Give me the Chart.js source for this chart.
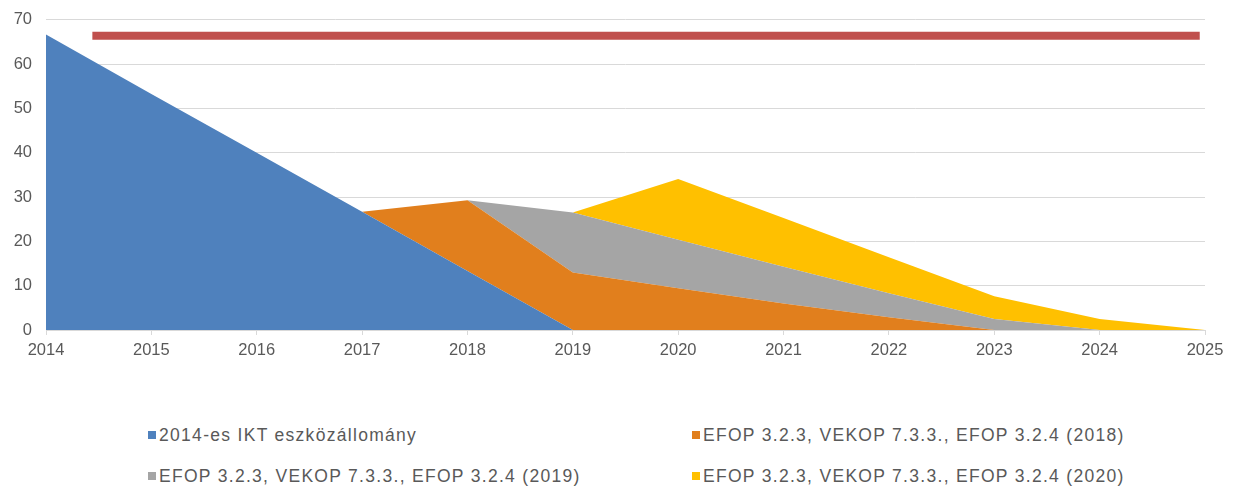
<!DOCTYPE html>
<html>
<head>
<meta charset="utf-8">
<script src="https://cdn.jsdelivr.net/npm/chart.js@4/dist/chart.umd.min.js"></script>
<style>
  body { margin: 0; background: #fff; font-family: "Liberation Sans", Arial, sans-serif; }
  #wrap { position: relative; width: 1238px; height: 490px; overflow: hidden; }
  #chartBox { position: absolute; left: 0; top: -4px; width: 1238px; height: 374px; }
  .leg { position: absolute; font-size: 17.5px; line-height: 20px; letter-spacing: 1.3px; color: #595959; white-space: nowrap; }
  .leg span { display: inline-block; width: 8px; height: 8px; margin-right: 3px; vertical-align: 2px; }
</style>
</head>
<body>
<div id="wrap">
  <div id="chartBox"><canvas id="chart1"></canvas></div>
  <div id="legend"></div>
</div>
<script>
// évek
var years = [2014, 2015, 2016, 2017, 2018, 2019, 2020, 2021, 2022, 2023, 2024, 2025];
var seriesNames = [
  '2014-es IKT eszközállomány',
  'EFOP 3.2.3, VEKOP 7.3.3., EFOP 3.2.4 (2018)',
  'EFOP 3.2.3, VEKOP 7.3.3., EFOP 3.2.4 (2019)',
  'EFOP 3.2.3, VEKOP 7.3.3., EFOP 3.2.4 (2020)'
];
var ikt2014 = [66.7, 53.3, 40, 26.7, 13.3, 0, 0, 0, 0, 0, 0, 0];
var efop2018 = [0, 0, 0, 0, 16, 13, 9.4, 6, 2.9, 0, 0, 0];
var efop2019 = [0, 0, 0, 0, 0, 13.5, 11, 8.3, 5.4, 2.5, 0, 0];
var efop2020 = [0, 0, 0, 0, 0, 0, 13.7, 11, 8.1, 5.1, 2.5, 0];
var colors = ['#4f81bd', '#e17f1d', '#a5a5a5', '#ffc000'];
// célérték vonal
var targetX = [2014.44, 2024.95];
var targetValue = 66.4;
var yTicks = [0, 10, 20, 30, 40, 50, 60, 70];

function toPoints(values) {
  return values.map(function(v, i) { return { x: years[i], y: v }; });
}

var allSeries = [ikt2014, efop2018, efop2019, efop2020];
var datasets = allSeries.map(function(vals, i) {
  return {
    label: seriesNames[i],
    data: toPoints(vals),
    backgroundColor: colors[i],
    borderWidth: 0,
    pointRadius: 0,
    fill: i === 0 ? 'origin' : '-1',
    stack: 'a',
    tension: 0
  };
});
datasets.push({
  label: 'cél',
  data: targetX.map(function(x) { return { x: x, y: targetValue }; }),
  borderColor: '#c0504d',
  borderWidth: 8,
  borderCapStyle: 'butt',
  pointRadius: 0,
  fill: false,
  stack: 'b'
});

var ctx1 = document.getElementById('chart1').getContext('2d');
new Chart(ctx1, {
  type: 'line',
  data: { datasets: datasets },
  options: {
    responsive: true,
    maintainAspectRatio: false,
    animation: false,
    layout: { padding: { left: 0, right: 33, top: 0, bottom: 0 } },
    plugins: { legend: { display: false }, tooltip: { enabled: false } },
    scales: {
      x: {
        type: 'linear',
        min: years[0],
        max: years[years.length - 1],
        grid: { drawOnChartArea: false, color: '#d9d9d9', tickLength: 5, tickColor: '#d9d9d9' },
        border: { color: '#d9d9d9' },
        ticks: {
          stepSize: 1,
          color: '#595959',
          font: { family: 'Liberation Sans', size: 16.5 },
          padding: 6,
          maxRotation: 0,
          callback: function(v) { return String(v); }
        },
        afterFit: function(s) { s.height = 40; }
      },
      y: {
        stacked: true,
        min: 0,
        max: 70,
        afterBuildTicks: function(s) { s.ticks = yTicks.map(function(v) { return { value: v }; }); },
        grid: { color: '#d9d9d9', drawTicks: false },
        border: { display: false },
        ticks: {
          color: '#595959',
          font: { family: 'Liberation Sans', size: 16.5 },
          padding: 14
        },
        afterFit: function(s) { s.width = 46; }
      }
    }
  }
});

// jelmagyarázat két oszlopban
var legendPos = [[148, 425], [692, 425], [148, 466], [692, 466]];
var legendBox = document.getElementById('legend');
seriesNames.forEach(function(name, i) {
  var d = document.createElement('div');
  d.className = 'leg';
  d.style.left = legendPos[i][0] + 'px';
  d.style.top = legendPos[i][1] + 'px';
  d.innerHTML = '<span style="background:' + colors[i] + '"></span>' + name;
  legendBox.appendChild(d);
});
</script>
</body>
</html>
